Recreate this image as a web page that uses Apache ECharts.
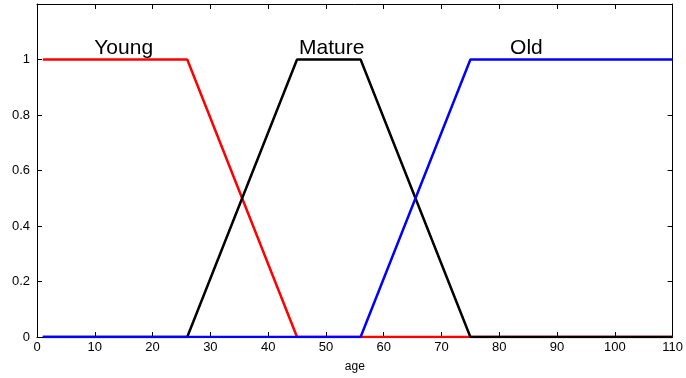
<!DOCTYPE html>
<html>
<head>
<meta charset="utf-8">
<script src="https://cdn.jsdelivr.net/npm/echarts@6/dist/echarts.min.js"></script>
<style>
  html, body { margin: 0; padding: 0; background: #fff; }
  #chart { width: 686px; height: 378px; }
</style>
</head>
<body>
<div id="chart"></div>
<script>
// membership functions, [age, degree] breakpoints
const young = [[1, 1], [26, 1], [45, 0], [110, 0]]
const mature = [[1, 0], [26, 0], [45, 1], [56, 1], [75, 0], [110, 0]]
const old = [[1, 0], [56, 0], [75, 1], [110, 1]]

const labelNames = ['Young', 'Mature', 'Old']
const labelPos = [[15, 1.04], [51, 1.04], [84.7, 1.04]]

const FONT = 'Liberation Sans, Arial, sans-serif'

const chart = echarts.init(document.getElementById('chart'))

const lineSeries = (data, color) => ({
  type: 'line',
  data,
  symbol: 'none',
  lineStyle: { color, width: 2.5 },
  silent: true,
  animation: false,
})

const tickOnly = {
  axisLine: { show: true, onZero: false, lineStyle: { color: '#000', width: 1 } },
  axisTick: { show: true, inside: true, length: 5, lineStyle: { color: '#000' } },
  axisLabel: { show: false },
  splitLine: { show: false },
}

chart.setOption({
  animation: false,
  grid: { left: 37, right: 11, top: 4, bottom: 40 },
  xAxis: [
    {
      type: 'value',
      min: 0,
      max: 110,
      interval: 10,
      name: 'age',
      nameLocation: 'middle',
      nameGap: 24,
      nameTextStyle: { color: '#000', fontSize: 12, fontFamily: FONT },
      axisLine: { onZero: false, lineStyle: { color: '#000', width: 1 } },
      axisTick: { inside: true, length: 5, lineStyle: { color: '#000' } },
      axisLabel: { color: '#000', fontSize: 13, fontFamily: FONT, margin: 4 },
      splitLine: { show: false },
    },
    { type: 'value', position: 'top', min: 0, max: 110, interval: 10, ...tickOnly },
  ],
  yAxis: [
    {
      type: 'value',
      min: 0,
      max: 1.2,
      interval: 0.2,
      axisLine: { show: true, onZero: false, lineStyle: { color: '#000', width: 1 } },
      axisTick: { show: true, inside: true, length: 5, lineStyle: { color: '#000' } },
      axisLabel: {
        color: '#000',
        fontSize: 13,
        fontFamily: FONT,
        margin: 7,
        formatter: (v) => (v > 1.01 ? '' : String(+v.toFixed(1))),
      },
      splitLine: { show: false },
    },
    { type: 'value', position: 'right', min: 0, max: 1.2, interval: 0.2, ...tickOnly },
  ],
  series: [
    lineSeries(young, '#ff0000'),
    lineSeries(mature, '#000000'),
    lineSeries(old, '#0000ff'),
    {
      type: 'scatter',
      symbolSize: 0,
      silent: true,
      itemStyle: { opacity: 1 },
      data: labelPos.map((p, i) => ({ value: p, name: labelNames[i] })),
      label: {
        show: true,
        position: 'inside',
        formatter: (p) => p.name,
        color: '#000',
        opacity: 1,
        textBorderWidth: 0,
        fontSize: 21,
        fontFamily: FONT,
      },
    },
  ],
})
</script>
</body>
</html>
